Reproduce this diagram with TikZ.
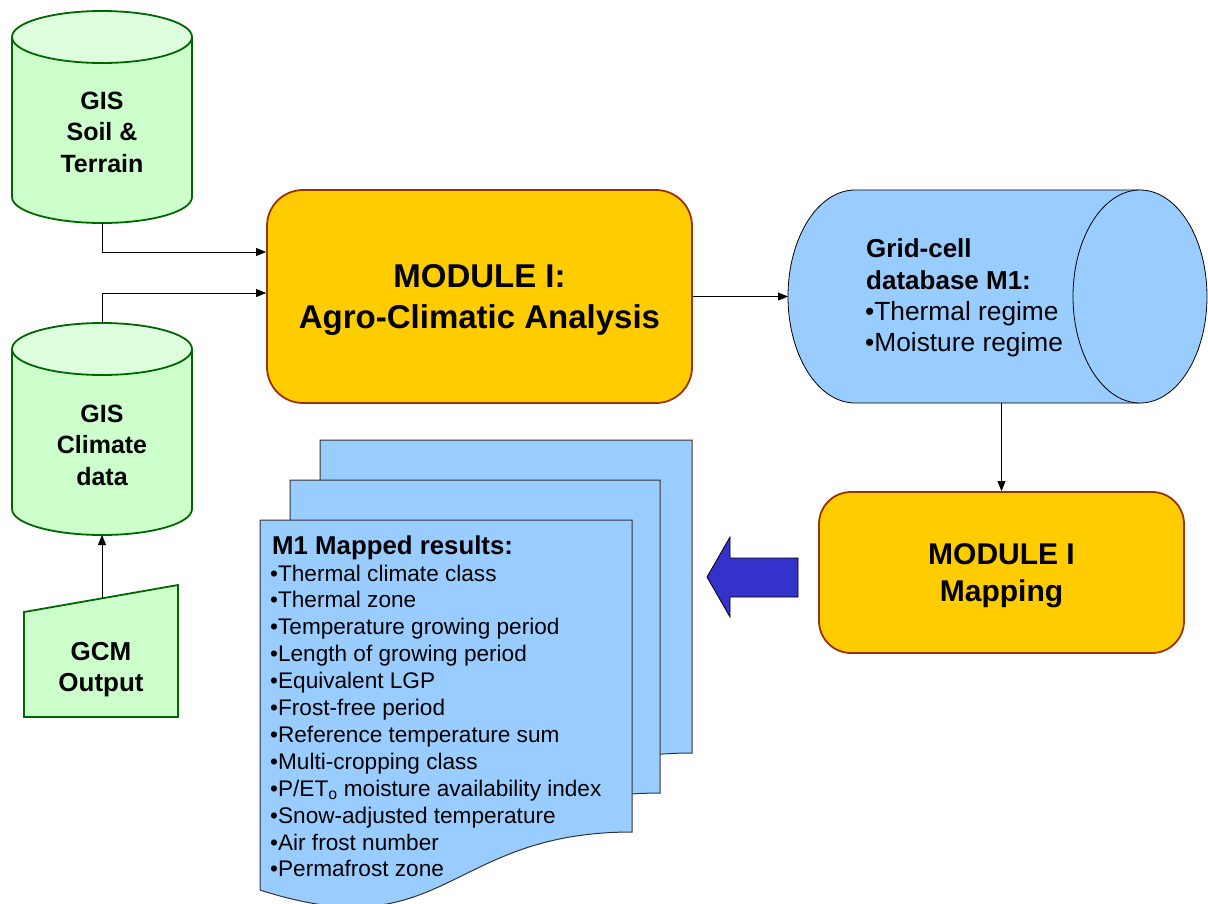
\documentclass[tikz,border=0pt]{standalone}
\usepackage{fontspec}
\setmainfont{Liberation Sans}
\usetikzlibrary{arrows.meta}
\definecolor{gfill}{HTML}{CCFFCC}
\definecolor{gtop}{HTML}{DDFFDD}
\definecolor{gline}{HTML}{006600}
\definecolor{ofill}{HTML}{FFCC00}
\definecolor{oline}{HTML}{993300}
\definecolor{bfill}{HTML}{99CCFF}
\definecolor{barrow}{HTML}{3333CC}
\definecolor{pline}{HTML}{333333}
\begin{document}
\begin{tikzpicture}[x=1pt,y=-1pt,
  conn/.style={-{Triangle[length=10pt,width=8pt]}, line width=0.8pt},
  gshape/.style={fill=gfill, draw=gline, line width=1.8pt},
  obox/.style={fill=ofill, draw=oline, line width=1.8pt, rounded corners=36pt, inner sep=0pt},
  bshape/.style={fill=bfill, draw=black, line width=0.8pt},
  page/.style={fill=bfill, draw=pline, line width=1pt},
  geo/.style={inner sep=0pt, outer sep=0pt},
  txt/.style={inner sep=0pt, anchor=base},
  txtl/.style={inner sep=0pt, anchor=base west}]
\useasboundingbox (0,0) rectangle (1208,903);

% ---------- GIS Soil & Terrain cylinder
\path[gshape] (12,37) -- (12,197) .. controls (12,211.4) and (52.3,223) .. (102,223)
  .. controls (151.7,223) and (192,211.4) .. (192,197) -- (192,37) -- cycle;
\path[gshape, fill=gtop] (102,37) ellipse [x radius=90, y radius=26];
\node[geo, minimum width=180pt, minimum height=212pt] (soil) at (102,117) {};
\begin{scope}[font=\bfseries\fontsize{25}{30}\selectfont]
\node[txt] (soil1) at (102,109) {GIS};
\node[txt] (soil2) at (102,140) {Soil \&};
\node[txt] (soil3) at (102,172) {Terrain};
\end{scope}

% ---------- GIS Climate data cylinder
\path[gshape] (12,349) -- (12,509) .. controls (12,523.4) and (52.3,535) .. (102,535)
  .. controls (151.7,535) and (192,523.4) .. (192,509) -- (192,349) -- cycle;
\path[gshape, fill=gtop] (102,349) ellipse [x radius=90, y radius=26];
\node[geo, minimum width=180pt, minimum height=212pt] (clim) at (102,429) {};
\begin{scope}[font=\bfseries\fontsize{25}{30}\selectfont]
\node[txt] (clim1) at (102,422) {GIS};
\node[txt] (clim2) at (102,453) {Climate};
\node[txt] (clim3) at (102,485) {data};
\end{scope}

% ---------- GCM Output (manual input)
\path[gshape] (24,612) -- (178,585) -- (178,717) -- (24,717) -- cycle;
\coordinate (gcmtop) at (102,598);
\begin{scope}[font=\bfseries\fontsize{26}{31}\selectfont]
\node[txt] (gcm1) at (101,660) {GCM};
\node[txt] (gcm2) at (101,691) {Output};
\end{scope}

% ---------- MODULE I box
\node[obox, minimum width=425pt, minimum height=213pt] (modI) at (479.5,296.5) {};
\begin{scope}[font=\bfseries\fontsize{33}{40}\selectfont]
\node[txt] (modI1) at (479.5,287) {MODULE I:};
\node[txt] (modI2) at (479.5,328) {Agro-Climatic Analysis};
\end{scope}

% ---------- Grid-cell database cylinder (horizontal)
\path[bshape] (1140,190) -- (855,190) .. controls (818,190) and (788,237.7) .. (788,296.5)
  .. controls (788,355.3) and (818,403) .. (855,403) -- (1140,403);
\path[bshape] (1140,296.5) ellipse [x radius=67, y radius=106.5];
\node[geo, minimum width=419pt, minimum height=213pt] (grid) at (997.5,296.5) {};
\node[txtl, font=\bfseries\fontsize{26}{31}\selectfont] (grid1) at (866,257) {Grid-cell};
\node[txtl, font=\bfseries\fontsize{26}{31}\selectfont] (grid2) at (866,289) {database M1:};
\node[txtl, font=\fontsize{26.3}{31}\selectfont] (grid3) at (865,320) {•Thermal regime};
\node[txtl, font=\fontsize{26.3}{31}\selectfont] (grid4) at (865,351) {•Moisture regime};

% ---------- MODULE I Mapping box
\node[obox, rounded corners=32pt, minimum width=365pt, minimum height=161pt] (map) at (1001.5,572.5) {};
\begin{scope}[font=\bfseries\fontsize{30}{36}\selectfont]
\node[txt] (map1) at (1001.5,564) {MODULE I};
\node[txt] (map2) at (1001.5,601) {Mapping};
\end{scope}

% ---------- Block arrow
\path[fill=barrow, draw=black, line width=0.8pt] (707,577) -- (730,537) -- (730,558) -- (798,558)
  -- (798,597) -- (730,597) -- (730,617) -- cycle;

% ---------- Document stack
\path[page] (320,440) -- (692,440) -- (692,753) .. controls (506,753) and (506,872) .. (320,804) -- cycle;
\path[page] (290,480) -- (660,480) -- (660,793) .. controls (475,793) and (475,912) .. (290,844) -- cycle;
\path[page] (260,520) -- (632,520) -- (632,832) .. controls (446,832) and (446,950) .. (260,890) -- cycle;
\node[txtl, font=\bfseries\fontsize{25.8}{30}\selectfont] (res0) at (272,554) {M1 Mapped results:};
\begin{scope}[font=\fontsize{22.6}{26}\selectfont]
\foreach \t [count=\i from 0] in {Thermal climate class, Thermal zone, Temperature growing period,
  Length of growing period, Equivalent LGP, Frost-free period, Reference temperature sum,
  Multi-cropping class, P/ET\textsubscript{o} moisture availability index,
  Snow-adjusted temperature, Air frost number, Permafrost zone}
  \node[txtl] (res\i) at (270,{581+26.9*\i}) {•\t};
\end{scope}

% ---------- Connectors
\draw[conn] (soil.south) |- ([yshift=44.5pt]modI.west);
\draw[conn] (clim.north) |- ([yshift=3.5pt]modI.west);
\draw[conn] (gcmtop) -- (clim.south);
\draw[conn] (modI.east) -- (grid.west);
\draw[conn] (grid.south -| map.north) -- (map.north);
\end{tikzpicture}
\end{document}
